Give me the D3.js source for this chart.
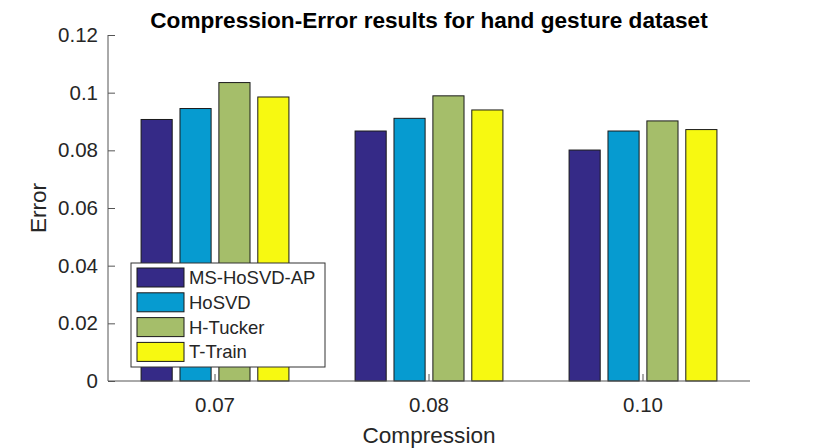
<!DOCTYPE html>
<html>
<head>
<meta charset="utf-8">
<script src="https://cdn.jsdelivr.net/npm/d3@7"></script>
<style>
  body { margin: 0; background: #fff; }
  svg { display: block; font-family: "Liberation Sans", Arial, sans-serif; }
</style>
</head>
<body>
<div id="chart"></div>
<script>
// data
var categories = ["0.07", "0.08", "0.10"];
var seriesNames = ["MS-HoSVD-AP", "HoSVD", "H-Tucker", "T-Train"];
var seriesColors = ["#352a87", "#069bd0", "#a5be6a", "#f7f911"];
var msHosvdAp = [0.0907, 0.0867, 0.0801];
var hosvd = [0.0945, 0.0911, 0.0867];
var hTucker = [0.1035, 0.0989, 0.0902];
var tTrain = [0.0985, 0.0940, 0.0872];
var yTicks = [0, 0.02, 0.04, 0.06, 0.08, 0.1, 0.12];

var series = [msHosvdAp, hosvd, hTucker, tTrain];

var width = 830, height = 448;
var margin = {left: 108, right: 80, top: 35, bottom: 67};
var axisColor = "#555";
var textColor = "#262626";

var svg = d3.select("#chart").append("svg")
    .attr("width", width)
    .attr("height", height);

// x: group index, axis runs from 0.5 to n + 0.5 like matlab
var x = d3.scaleLinear()
    .domain([0.5, categories.length + 0.5])
    .range([margin.left, width - margin.right]);

var y = d3.scaleLinear()
    .domain([0, 0.12])
    .range([height - margin.bottom, margin.top]);

// matlab grouped bar geometry
var groupWidth = Math.min(0.8, series.length / (series.length + 1.5));
var slot = groupWidth / series.length;
var barW = slot * 0.8;

// x ticks (inward)
svg.append("g").selectAll("line")
    .data(categories)
    .enter().append("line")
    .attr("x1", function (d, i) { return x(i + 1); })
    .attr("x2", function (d, i) { return x(i + 1); })
    .attr("y1", y(0))
    .attr("y2", y(0) - 7)
    .attr("stroke", axisColor);

// bars
series.forEach(function (vals, s) {
    svg.append("g").selectAll("rect")
        .data(vals)
        .enter().append("rect")
        .attr("x", function (d, i) {
            var c = (i + 1) - groupWidth / 2 + slot * (s + 0.5);
            return x(c - barW / 2);
        })
        .attr("width", x(barW) - x(0))
        .attr("y", function (d) { return y(d); })
        .attr("height", function (d) { return y(0) - y(d); })
        .attr("fill", seriesColors[s])
        .attr("stroke", "#1a1a1a")
        .attr("stroke-width", 1);
});

// y axis
var yAxis = d3.axisLeft(y)
    .tickValues(yTicks)
    .tickSize(-7)
    .tickPadding(10)
    .tickFormat(function (d) { return d === 0 ? "0" : d3.format("")(+d.toFixed(2)); });

var gy = svg.append("g")
    .attr("transform", "translate(" + margin.left + ",0)")
    .call(yAxis);
gy.select(".domain").attr("stroke", axisColor).attr("d",
    "M" + 0 + "," + y(0.12) + "V" + y(0));
gy.selectAll(".tick line").attr("stroke", axisColor);
gy.selectAll(".tick text")
    .attr("fill", textColor)
    .attr("font-size", "20.5px")
    .attr("font-family", "Liberation Sans, Arial, sans-serif");

// x axis line
svg.append("line")
    .attr("x1", x(0.5)).attr("x2", x(categories.length + 0.5))
    .attr("y1", y(0)).attr("y2", y(0))
    .attr("stroke", axisColor);

// x tick labels
svg.append("g").selectAll("text")
    .data(categories)
    .enter().append("text")
    .attr("x", function (d, i) { return x(i + 1); })
    .attr("y", 412)
    .attr("text-anchor", "middle")
    .attr("font-size", "20.5px")
    .attr("fill", textColor)
    .text(function (d) { return d; });

// axis labels
svg.append("text")
    .attr("x", x(2))
    .attr("y", 443)
    .attr("text-anchor", "middle")
    .attr("font-size", "22.6px")
    .attr("fill", textColor)
    .text("Compression");

svg.append("text")
    .attr("transform", "translate(46," + ((y(0) + y(0.12)) / 2) + ") rotate(-90)")
    .attr("text-anchor", "middle")
    .attr("font-size", "22.6px")
    .attr("fill", textColor)
    .text("Error");

// title
svg.append("text")
    .attr("x", x(2))
    .attr("y", 28)
    .attr("text-anchor", "middle")
    .attr("font-size", "22.6px")
    .attr("font-weight", "bold")
    .attr("fill", "#000")
    .text("Compression-Error results for hand gesture dataset");

// legend
var legend = svg.append("g").attr("transform", "translate(131,263)");
legend.append("rect")
    .attr("width", 194)
    .attr("height", 104)
    .attr("fill", "#fff")
    .attr("stroke", "#333")
    .attr("stroke-width", 1);

var rows = legend.selectAll("g.row")
    .data(seriesNames)
    .enter().append("g")
    .attr("class", "row")
    .attr("transform", function (d, i) { return "translate(0," + (14.5 + i * 24.8) + ")"; });

rows.append("rect")
    .attr("x", 6)
    .attr("y", -9.5)
    .attr("width", 47)
    .attr("height", 19)
    .attr("fill", function (d, i) { return seriesColors[i]; })
    .attr("stroke", "#1a1a1a");

rows.append("text")
    .attr("x", 58)
    .attr("y", 6.5)
    .attr("font-size", "18.5px")
    .attr("fill", textColor)
    .text(function (d) { return d; });
</script>
</body>
</html>
